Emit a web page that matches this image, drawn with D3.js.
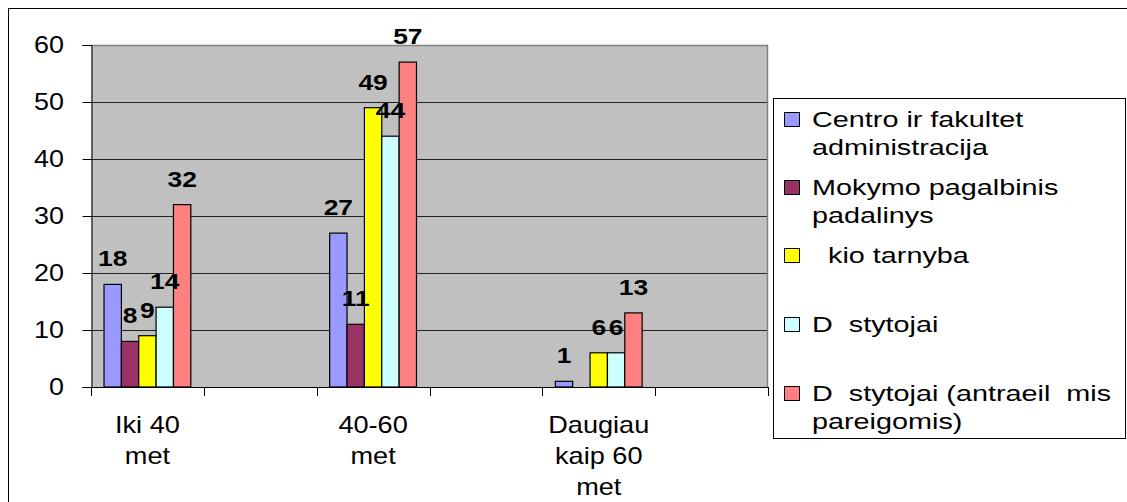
<html>
<head>
<meta charset="utf-8">
<script src="https://d3js.org/d3.v7.min.js"></script>
<style>
  body { margin: 0; background: #fff; }
  text { font-family: "Liberation Sans", Arial, sans-serif; fill: #000; white-space: pre; }
</style>
</head>
<body>
<svg id="chart" width="1127" height="502"></svg>
<script>
// categories (empty slots are real, unlabeled categories in the original sheet)
const categories = [["Iki 40", "met"], [], ["40-60", "met"], [], ["Daugiau", "kaip 60", "met"], []];

const seriesNames = [
  ["Centro ir fakultet", "administracija"],
  ["Mokymo pagalbinis", "padalinys"],
  ["  kio tarnyba"],
  ["D  stytojai"],
  ["D  stytojai (antraeil  mis", "pareigomis)"]
];
const seriesColors = ["#9999FF", "#993366", "#FFFF00", "#CCFFFF", "#FF8080"];

const centro     = [18, null, 27, null, 1, null];
const mokymo     = [8, null, 11, null, null, null];
const ukio       = [9, null, 49, null, 6, null];
const destytojai = [14, null, 44, null, 6, null];
const antraeil   = [32, null, 57, null, 13, null];
const allSeries = [centro, mokymo, ukio, destytojai, antraeil];

const yTicks = [0, 10, 20, 30, 40, 50, 60];

const svg = d3.select("#chart");

// text is drawn a bit wider than the font, like the original
function stretchText(sel, x, y, str, size, sx, anchor, weight) {
  return sel.append("text")
    .attr("transform", "translate(" + x + "," + y + ") scale(" + sx + ",1)")
    .attr("text-anchor", anchor || "start")
    .style("font-size", size + "px")
    .style("font-weight", weight || "normal")
    .text(str);
}

// outer frame
svg.append("line").attr("x1", 8).attr("x2", 1127).attr("y1", 8.5).attr("y2", 8.5).attr("stroke", "#000");
svg.append("line").attr("x1", 8.5).attr("x2", 8.5).attr("y1", 8).attr("y2", 502).attr("stroke", "#000");

const plotL = 91, plotR = 768, plotT = 45, plotB = 387;

const x = d3.scaleBand().domain(d3.range(categories.length)).range([plotL, plotR]).padding(0);
const xs = d3.scaleBand().domain(d3.range(allSeries.length)).range([0, x.bandwidth()])
  .paddingInner(0).paddingOuter(0.75);
const y = d3.scaleLinear().domain([0, 60]).range([plotB, plotT]);

// plot background
svg.append("rect").attr("x", plotL).attr("y", plotT).attr("width", plotR - plotL).attr("height", plotB - plotT)
  .attr("fill", "#C0C0C0");

// gridlines
svg.append("g").selectAll("line").data(yTicks.filter(d => d > 0 && d < 60)).enter().append("line")
  .attr("x1", plotL).attr("x2", plotR)
  .attr("y1", d => Math.round(y(d)) + 0.5).attr("y2", d => Math.round(y(d)) + 0.5)
  .attr("stroke", "#222");
svg.append("line").attr("x1", plotL).attr("x2", plotR).attr("y1", plotT + 0.5).attr("y2", plotT + 0.5).attr("stroke", "#808080").attr("stroke-width", 1.5);
svg.append("line").attr("x1", plotR - 0.5).attr("x2", plotR - 0.5).attr("y1", plotT).attr("y2", plotB).attr("stroke", "#808080").attr("stroke-width", 1.5);

// bars
allSeries.forEach(function(vals, si) {
  const g = svg.append("g");
  const pts = vals.map((v, ci) => ({v: v, ci: ci})).filter(d => d.v !== null);
  g.selectAll("rect").data(pts).enter().append("rect")
    .attr("x", d => x(d.ci) + xs(si))
    .attr("y", d => y(d.v))
    .attr("width", xs.bandwidth())
    .attr("height", d => y(0) - y(d.v))
    .attr("fill", seriesColors[si])
    .attr("stroke", "#000").attr("stroke-width", 1.2);
});

// value labels
allSeries.forEach(function(vals, si) {
  vals.forEach(function(v, ci) {
    if (v === null) return;
    stretchText(svg, x(ci) + xs(si) + xs.bandwidth() / 2, y(v) - 18, String(v), 22, 1.2, "middle", "bold");
  });
});

// y axis
const yAxis = svg.append("g").attr("transform", "translate(" + (plotL + 0.5) + ",0)")
  .call(d3.axisLeft(y).tickValues(yTicks).tickSize(9).tickFormat(""));
yAxis.select(".domain").attr("stroke", "#000");
yAxis.selectAll(".tick line").attr("stroke", "#000");
yTicks.forEach(function(t) {
  stretchText(svg, 64, y(t) + 8, String(t), 23, 1.17, "end");
});

// x axis
const xEdges = d3.range(categories.length + 1).map(i => plotL + i * x.step());
svg.append("line").attr("x1", plotL).attr("x2", plotR).attr("y1", plotB + 0.5).attr("y2", plotB + 0.5).attr("stroke", "#000");
svg.append("g").selectAll("line").data(xEdges).enter().append("line")
  .attr("x1", d => Math.round(d) + 0.5).attr("x2", d => Math.round(d) + 0.5)
  .attr("y1", plotB).attr("y2", plotB + 9).attr("stroke", "#000");
categories.forEach(function(lines, ci) {
  lines.forEach(function(line, li) {
    stretchText(svg, x(ci) + x.bandwidth() / 2, 433 + li * 31, line, 23, 1.18, "middle");
  });
});

// legend
const lg = svg.append("g");
lg.append("rect").attr("x", 773.5).attr("y", 98.5).attr("width", 352).attr("height", 340)
  .attr("fill", "#fff").attr("stroke", "#000");
const legendBase = [127, 195, 263, 332, 401];
seriesNames.forEach(function(lines, si) {
  lg.append("rect").attr("x", 784.5).attr("y", legendBase[si] - 14.5).attr("width", 15).attr("height", 14)
    .attr("fill", seriesColors[si]).attr("stroke", "#000");
  lines.forEach(function(line, li) {
    stretchText(lg, 812, legendBase[si] + li * 28, line, 22.5, 1.28, "start");
  });
});
</script>
</body>
</html>
